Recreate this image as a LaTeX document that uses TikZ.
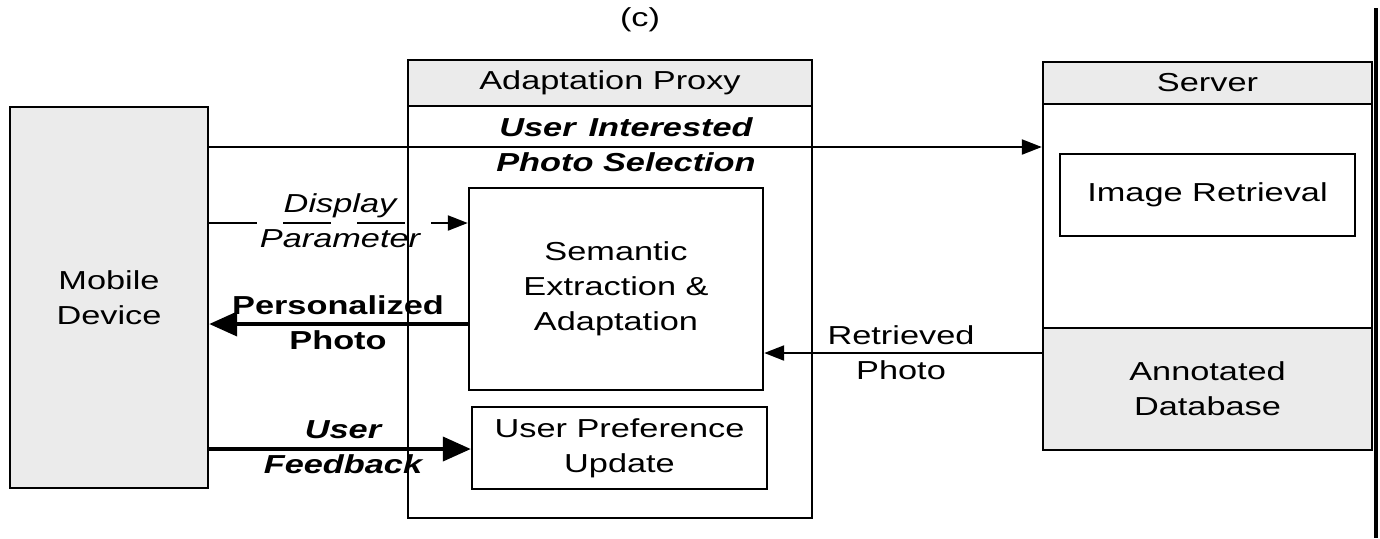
\documentclass[tikz,border=0pt]{standalone}
\usepackage{fontspec}
\setmainfont{Liberation Sans}[FakeStretch=1.32]
\usepackage{tikz}
\usetikzlibrary{arrows.meta,positioning}

\definecolor{boxgray}{HTML}{EBEBEB}

\begin{document}
\begin{tikzpicture}[x=0.5pt, y=-0.5pt]
		\tikzstyle{Box}		= [draw, line width=1.2pt, inner sep=0pt, align=center, font=\fontsize{13}{17.5}\selectfont]
		\tikzstyle{Gray}	= [fill=boxgray]
		\tikzstyle{Label}	= [inner sep=0pt, align=center, font=\fontsize{13}{17.5}\selectfont]
		\tikzstyle{Flow}	= [line width=1.1pt, -{Triangle[length=10pt, width=7.5pt]}]
		\tikzstyle{Heavy}	= [line width=2pt, -{Triangle[length=14pt, width=12pt]}]

		\useasboundingbox (0,0) rectangle (1380,538);

		\node (cap) at (640, 20) [Label] {(c)};

		\node (mobile) at (109, 297.5) [Box][Gray][minimum width=99pt, minimum height=190.5pt] {Mobile\\Device};

		\node (proxy) at (610, 289) [Box][minimum width=202pt, minimum height=229pt] {};
		\node (proxyhead) at (proxy.north) [Box][Gray][anchor=north, minimum width=202pt, minimum height=23pt] {Adaptation Proxy};
		\node (sem) at (616, 289) [Box][minimum width=147pt, minimum height=101pt] {Semantic\\Extraction \&\\Adaptation};
		\node (upu) at (619.5, 448) [Box][minimum width=147.5pt, minimum height=41pt] {User Preference\\Update};

		\node (server) at (1207.5, 256) [Box][minimum width=164.5pt, minimum height=194pt] {};
		\node (serverhead) at (server.north) [Box][Gray][anchor=north, minimum width=164.5pt, minimum height=21pt] {Server};
		\node (db) at (server.south) [Box][Gray][anchor=south, minimum width=164.5pt, minimum height=61pt] {Annotated\\Database};
		\node (ir) at (1207.5, 195) [Box][minimum width=147.5pt, minimum height=41pt] {Image Retrieval};

		% flows between the parts
		\draw[Flow] (mobile.east |- 0,147) -- (server.west |- 0,147);
		\draw[Flow, dash pattern=on 24pt off 13pt] (mobile.east |- 0,223) -- (sem.west |- 0,223);
		\draw[Heavy] (sem.west |- 0,324) -- (mobile.east |- 0,324);
		\draw[Flow] (server.west |- 0,353) -- (sem.east |- 0,353);
		\draw[Heavy] (mobile.east |- 0,449) -- (upu.west |- 0,449);

		\node (sel) at (626, 145) [Label][font=\fontsize{13}{17.5}\selectfont\bfseries\itshape] {User\enspace Interested\\Photo Selection};
		\node (disp) at (340, 221) [Label][font=\fontsize{13}{17.5}\selectfont\itshape] {Display\\Parameter};
		\node (pers) at (338, 323) [Label][font=\fontsize{13}{17.5}\selectfont\bfseries] {Personalized\\Photo};
		\node (retr) at (901, 353) [Label] {Retrieved\\Photo};
		\node (fb) at (343, 447) [Label][font=\fontsize{13}{17.5}\selectfont\bfseries\itshape] {User\\Feedback};

		\draw[line width=2pt] (1376, 8) -- (1376, 538);
	\end{tikzpicture}
\end{document}
